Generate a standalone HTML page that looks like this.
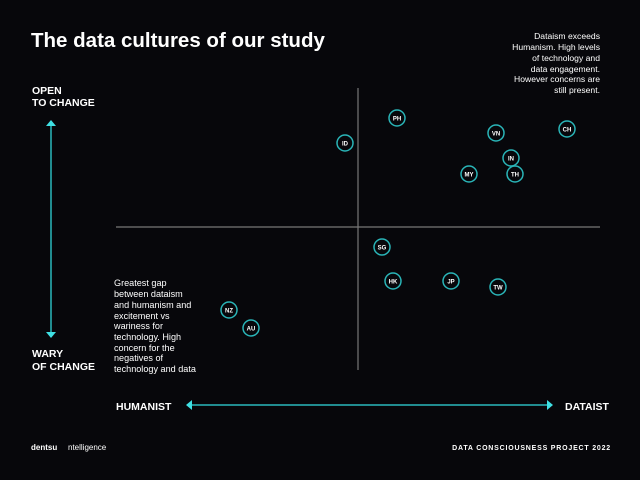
<!DOCTYPE html>
<html><head><style>
html,body{margin:0;padding:0;background:#07070b;}
svg{display:block;font-family:"Liberation Sans",sans-serif;}
</style></head><body>
<svg width="640" height="480" viewBox="0 0 640 480">
<rect width="640" height="480" fill="#07070b"/>
<text x="31" y="47" fill="#fff" font-size="20.5" font-weight="bold">The data cultures of our study</text>
<g fill="#fff" font-size="8.6" text-anchor="end">
<text x="600" y="39">Dataism exceeds</text>
<text x="600" y="50">Humanism. High levels</text>
<text x="600" y="61">of technology and</text>
<text x="600" y="72">data engagement.</text>
<text x="600" y="82">However concerns are</text>
<text x="600" y="93">still present.</text>
</g>
<g fill="#fff" font-size="10.5" font-weight="bold">
<text x="32" y="94">OPEN</text>
<text x="32" y="106">TO CHANGE</text>
<text x="32" y="357">WARY</text>
<text x="32" y="370">OF CHANGE</text>
<text x="116" y="410">HUMANIST</text>
<text x="565" y="410">DATAIST</text>
</g>
<g fill="#fff" font-size="9.1">
<text x="114" y="286">Greatest gap</text>
<text x="114" y="297">between dataism</text>
<text x="114" y="308">and humanism and</text>
<text x="114" y="319">excitement vs</text>
<text x="114" y="329">wariness for</text>
<text x="114" y="340">technology. High</text>
<text x="114" y="351">concern for the</text>
<text x="114" y="361">negatives of</text>
<text x="114" y="372">technology and data</text>
</g>
<line x1="358" y1="88" x2="358" y2="370" stroke="#777" stroke-width="1.2"/>
<line x1="116" y1="227" x2="600" y2="227" stroke="#777" stroke-width="1.2"/>
<line x1="51" y1="124" x2="51" y2="333" stroke="#2ab8bc" stroke-width="1.5"/>
<polygon points="46,126 56,126 51,120" fill="#3fe0e4"/>
<polygon points="46,332 56,332 51,338" fill="#3fe0e4"/>
<line x1="190" y1="405" x2="549" y2="405" stroke="#2ab8bc" stroke-width="1.5"/>
<polygon points="192,400 192,410 186,405" fill="#3fe0e4"/>
<polygon points="547,400 547,410 553,405" fill="#3fe0e4"/>
<g fill="none" stroke="#2ab5b8" stroke-width="1.5">
<circle cx="397" cy="118" r="8"/><circle cx="345" cy="143" r="8"/><circle cx="496" cy="133" r="8"/>
<circle cx="567" cy="129" r="8"/><circle cx="511" cy="158" r="8"/><circle cx="469" cy="174" r="8"/>
<circle cx="515" cy="174" r="8"/><circle cx="382" cy="247" r="8"/><circle cx="393" cy="281" r="8"/>
<circle cx="451" cy="281" r="8"/><circle cx="498" cy="287" r="8"/><circle cx="229" cy="310" r="8"/>
<circle cx="251" cy="328" r="8"/>
</g>
<g fill="#fff" font-size="6" font-weight="bold" text-anchor="middle">
<text x="397" y="120.5">PH</text><text x="345" y="145.5">ID</text><text x="496" y="135.5">VN</text>
<text x="567" y="131.5">CH</text><text x="511" y="160.5">IN</text><text x="469" y="176.5">MY</text>
<text x="515" y="176.5">TH</text><text x="382" y="249.5">SG</text><text x="393" y="283.5">HK</text>
<text x="451" y="283.5">JP</text><text x="498" y="289.5">TW</text><text x="229" y="312.5">NZ</text>
<text x="251" y="330.5">AU</text>
</g>
<text x="31" y="450" fill="#fff" font-size="8" font-weight="bold">dentsu</text>
<text x="68" y="450" fill="#fff" font-size="8">ntelligence</text>
<text x="611" y="450" fill="#fff" font-size="7" font-weight="bold" text-anchor="end" letter-spacing="0.8">DATA CONSCIOUSNESS PROJECT 2022</text>
</svg>
</body></html>
